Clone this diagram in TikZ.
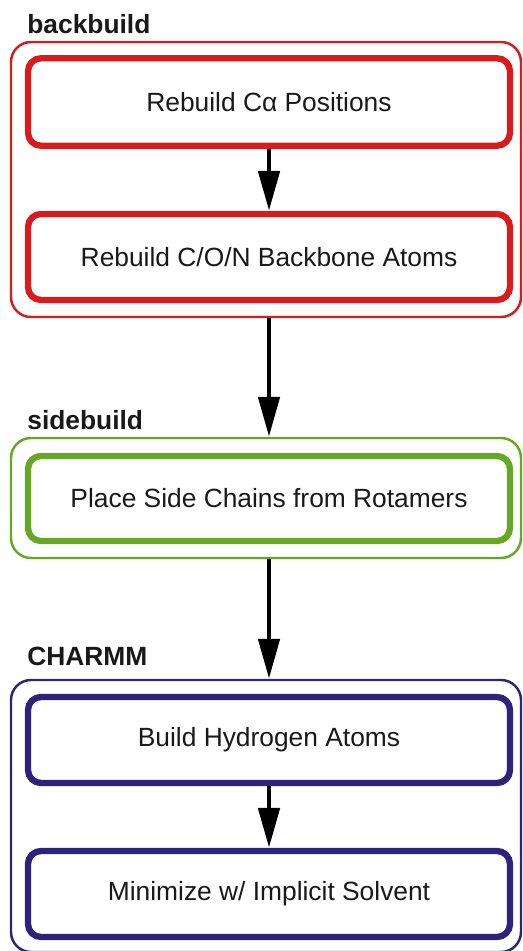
\documentclass[tikz,border=0pt]{standalone}
\usepackage{fontspec}
\setmainfont{Liberation Sans}
\usetikzlibrary{arrows.meta, positioning}

\definecolor{bbred}{RGB}{216,28,30}
\definecolor{sbgreen}{RGB}{102,168,38}
\definecolor{chblue}{RGB}{46,34,122}

\tikzset{
    stage/.style={draw, line width=3.6pt, rounded corners=0.26cm, fill=white,
        minimum width=9.64cm, minimum height=1.72cm},
    group/.style={draw, line width=1.4pt, rounded corners=0.4cm, minimum width=10.2cm},
    grouplabel/.style={font=\fontsize{15}{18}\selectfont\bfseries, anchor=base west, inner sep=0pt},
    flow/.style={line width=2.8pt, -{Triangle[length=0.8cm, width=0.42cm]}}
}

\begin{document}
\begin{tikzpicture}[font=\fontsize{15}{18}\selectfont, text=black!90]
        \useasboundingbox (0, 0) rectangle (10.44, -19.02);

        % group frames
        \node[group, bbred, minimum height=5.5cm] (backbuild) at (5.32, -3.59) {};
        \node[group, sbgreen, minimum height=2.4cm] (sidebuild) at (5.32, -9.96) {};
        \node[group, chblue, minimum height=5.44cm] (charmm) at (5.32, -16.32) {};

        \node[grouplabel] (bblabel) at (0.54, -0.66) {backbuild};
        \node[grouplabel] (sblabel) at (0.54, -8.58) {sidebuild};
        \node[grouplabel] (chlabel) at (0.54, -13.3) {CHARMM};

        % steps
        \node[stage, draw=bbred, minimum height=1.75cm] (rebuildca) at (5.38, -2.04) {Rebuild Cα Positions};
        \node[stage, draw=bbred] (rebuildbb) at (5.38, -5.14) {Rebuild C/O/N Backbone Atoms};
        \node[stage, draw=sbgreen, minimum height=1.7cm] (sidechains) at (5.38, -9.97) {Place Side Chains from Rotamers};
        \node[stage, draw=chblue] (hydrogens) at (5.38, -14.8) {Build Hydrogen Atoms};
        \node[stage, draw=chblue] (minimize) at (5.38, -17.88) {Minimize w/ Implicit Solvent};

        \draw[flow] (rebuildca) -- (rebuildbb);
        \draw[flow] (rebuildbb.south |- backbuild.south) -- (sidechains.north |- sidebuild.north);
        \draw[flow] (sidechains.south |- sidebuild.south) -- (hydrogens.north |- charmm.north);
        \draw[flow] (hydrogens) -- (minimize);
    \end{tikzpicture}
\end{document}
